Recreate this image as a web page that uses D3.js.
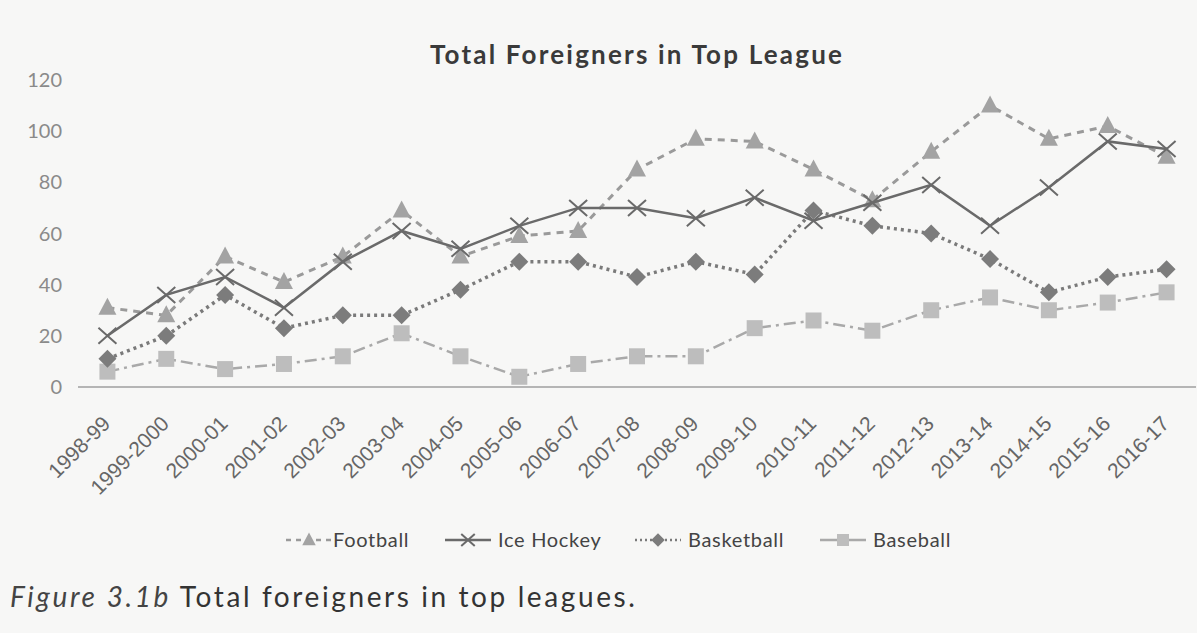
<!DOCTYPE html>
<html><head><meta charset="utf-8">
<script src="https://cdn.jsdelivr.net/npm/d3@7"></script>
<style>body{margin:0;background:#f7f7f6;} svg{display:block;}</style>
</head><body>
<svg id="c" width="1197" height="633"></svg>
<script>
const seasons = ["1998-99","1999-2000","2000-01","2001-02","2002-03","2003-04","2004-05","2005-06","2006-07","2007-08","2008-09","2009-10","2010-11","2011-12","2012-13","2013-14","2014-15","2015-16","2016-17"];
const football   = [31,28,51,41,51,69,51,59,61,85,97,96,85,73,92,110,97,102,90];
const iceHockey  = [20,36,43,31,49,61,54,63,70,70,66,74,65,72,79,63,78,96,93];
const basketball = [11,20,36,23,28,28,38,49,49,43,49,44,69,63,60,50,37,43,46];
const baseball   = [6,11,7,9,12,21,12,4,9,12,12,23,26,22,30,35,30,33,37];
const yTicks = [0,20,40,60,80,100,120];
const seriesNames = ["Football","Ice Hockey","Basketball","Baseball"];

const svg = d3.select("#c");
const x = d3.scaleBand().domain(seasons).range([78,1196]);
const y = d3.scaleLinear().domain([0,120]).range([387,80]);
const cx = d => x(d) + x.bandwidth()/2;

// title
svg.append("text").attr("x",637).attr("y",64).attr("text-anchor","middle")
  .attr("font-family","Lato, 'Open Sans', sans-serif").attr("font-weight","bold")
  .attr("font-size",26).attr("letter-spacing",2.2).attr("fill","#3a3a3a").text("Total Foreigners in Top League");

// y labels
svg.selectAll(".yl").data(yTicks).enter().append("text")
  .attr("x",62).attr("y",d=>y(d)+7).attr("text-anchor","end")
  .attr("font-family","Lato, sans-serif").attr("font-size",20).attr("fill","#8a8a8a").text(d=>d);

// axis line
svg.append("line").attr("x1",78).attr("x2",1196).attr("y1",y(0)).attr("y2",y(0))
  .attr("stroke","#b5b5b5").attr("stroke-width",2);

// x labels
svg.selectAll(".xl").data(seasons).enter().append("text")
  .attr("transform",d=>`translate(${cx(d)+4},${425}) rotate(-45)`)
  .attr("text-anchor","end").attr("font-family","'Liberation Sans', 'Open Sans', sans-serif")
  .attr("font-size",21).attr("fill","#666").text(d=>d);

const series = [
  {name:"Football", vals:football, stroke:"#9a9a9a", dash:"7,6", width:3, sym:"tri", fill:"#a3a3a3", legDash:"5,5"},
  {name:"Ice Hockey", vals:iceHockey, stroke:"#6a6a6a", dash:null, width:2.5, sym:"x", fill:"#6a6a6a", legDash:null},
  {name:"Basketball", vals:basketball, stroke:"#7a7a7a", dash:"3,4", width:3.5, sym:"dia", fill:"#7c7c7c", legDash:"2,3"},
  {name:"Baseball", vals:baseball, stroke:"#a9a9a9", dash:"12,5,3,5", width:2.5, sym:"sq", fill:"#bdbdbd", legDash:null}
];

function drawSym(g, sym, px, py, fill, scale){
  const s = scale||1;
  if(sym==="tri"){
    g.append("path").attr("d",`M${px},${py-10*s}L${px+9*s},${py+7*s}L${px-9*s},${py+7*s}Z`).attr("fill",fill);
  } else if(sym==="x"){
    g.append("path").attr("d",`M${px-9*s},${py-8*s}L${px+9*s},${py+8*s}M${px+9*s},${py-8*s}L${px-9*s},${py+8*s}`)
      .attr("stroke",fill).attr("stroke-width",2).attr("fill","none");
  } else if(sym==="dia"){
    g.append("path").attr("d",`M${px},${py-9*s}L${px+9*s},${py}L${px},${py+9*s}L${px-9*s},${py}Z`).attr("fill",fill);
  } else {
    g.append("rect").attr("x",px-8*s).attr("y",py-8*s).attr("width",16*s).attr("height",16*s).attr("fill",fill);
  }
}

const line = d3.line().x((d,i)=>cx(seasons[i])).y(d=>y(d));
// draw order: baseball, basketball, football, ice hockey
[3,2,0,1].forEach(k=>{
  const s = series[k];
  const g = svg.append("g");
  g.append("path").attr("d",line(s.vals)).attr("fill","none").attr("stroke",s.stroke)
    .attr("stroke-width",s.width).attr("stroke-dasharray",s.dash);
  s.vals.forEach((v,i)=>drawSym(g,s.sym,cx(seasons[i]),y(v),s.fill,1));
});

// legend
const legSym = [286,445,635,820];
const legText = [333,498,688,873];
series.forEach((s,i)=>{
  const g = svg.append("g");
  const lx = legSym[i], ly = 540;
  g.append("line").attr("x1",lx).attr("x2",lx+46).attr("y1",ly).attr("y2",ly)
    .attr("stroke",s.stroke).attr("stroke-width",2.5).attr("stroke-dasharray",s.legDash);
  drawSym(g,s.sym,lx+23,ly,s.fill,0.75);
  g.append("text").attr("x",legText[i]).attr("y",547).attr("font-family","Lato, sans-serif")
    .attr("font-size",20).attr("letter-spacing",0.7).attr("fill","#444").text(s.name);
});

// caption
const cap = svg.append("text").attr("x",10).attr("y",607).attr("font-family","Lato, 'Open Sans', sans-serif")
  .attr("font-size",28).attr("letter-spacing",2.6).attr("fill","#333");
cap.append("tspan").attr("font-style","italic").attr("fill","#444").text("Figure 3.1b");
cap.append("tspan").text(" Total foreigners in top leagues.");
</script>
</body></html>
